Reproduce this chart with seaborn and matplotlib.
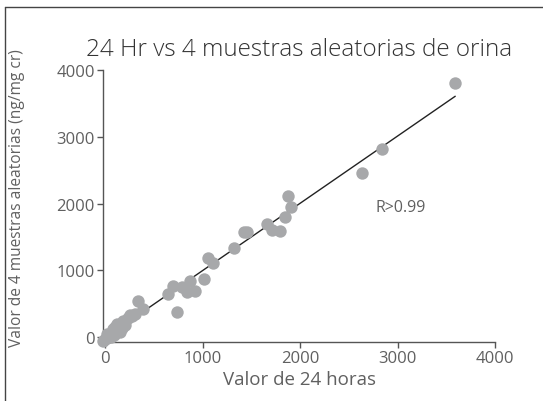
import matplotlib
matplotlib.use("Agg")
import matplotlib.pyplot as plt
import seaborn as sns
from matplotlib.lines import Line2D

sns.set_style("ticks")
plt.rcParams['font.family'] = ['Open Sans', 'DejaVu Sans']

# Data (24 h value vs 4 random samples)
horas_24 = [
    -20, 0, 15, 30, 45, 60, 75, 90, 110, 130, 150, 170, 20, 50, 85, 100,
    120, 188, 200, 230, 256, 274, 308, 342, 393, 649, 701, 735, 786, 838,
    872, 923, 1009, 1060, 1111, 1326, 1419, 1453, 1665, 1709, 1795, 1849,
    1880, 1911, 2639, 2844, 3590,
]
muestras_4 = [
    -60, -30, -10, 20, 40, 0, 60, 30, 80, 110, 70, 140, 50, 19, 119, 150,
    194, 243, 180, 280, 328, 318, 343, 542, 418, 642, 766, 378, 742, 667,
    841, 691, 866, 1189, 1115, 1339, 1572, 1572, 1691, 1601, 1592, 1801,
    2119, 1955, 2458, 2816, 3810,
]

fig, ax = plt.subplots(figsize=(5.43, 4.02), dpi=100)
fig.subplots_adjust(left=0.19, right=0.912, bottom=0.147, top=0.823)

gris = "#a7a8aa"
texto = "#606060"

sns.scatterplot(x=horas_24, y=muestras_4, color=gris, s=80, linewidth=0,
                ax=ax, clip_on=False, zorder=3)
sns.regplot(x=horas_24, y=muestras_4, scatter=False, ci=None, ax=ax,
            line_kws={"color": "#222222", "linewidth": 1.0, "zorder": 2})

ax.set_xlim(-20, 4000)
ax.set_ylim(-75, 4000)
ax.set_xticks([0, 1000, 2000, 3000, 4000])
ax.set_yticks([0, 1000, 2000, 3000, 4000])
ax.tick_params(colors="#555555", labelsize=12, length=4, width=1,
               labelcolor=texto, pad=2)
for s in ["left", "bottom"]:
    ax.spines[s].set_color("#555555")
    ax.spines[s].set_linewidth(1)
sns.despine(ax=ax)

ax.set_xlabel("Valor de 24 horas", fontsize=13.5, color=texto, labelpad=3)
ax.set_ylabel("Valor de 4 muestras aleatorias (ng/mg cr)", fontsize=11.2,
              color=texto)
ax.yaxis.set_label_coords(-0.199, 0.531)
ax.set_title("24 Hr vs 4 muestras aleatorias de orina", fontsize=17.5,
             color="#333333", pad=11, fontweight="light")
ax.text(3030, 1955, "R>0.99", fontsize=11.5, color=texto, ha="center", va="center")

# figure frame (left and top edges)
fig.add_artist(Line2D([5 / 543, 5 / 543], [0, 1 - 8 / 402], color="#444444", lw=1))
fig.add_artist(Line2D([5 / 543, 1], [1 - 8 / 402, 1 - 8 / 402], color="#444444", lw=1))

fig.savefig("out.png", dpi=100)
